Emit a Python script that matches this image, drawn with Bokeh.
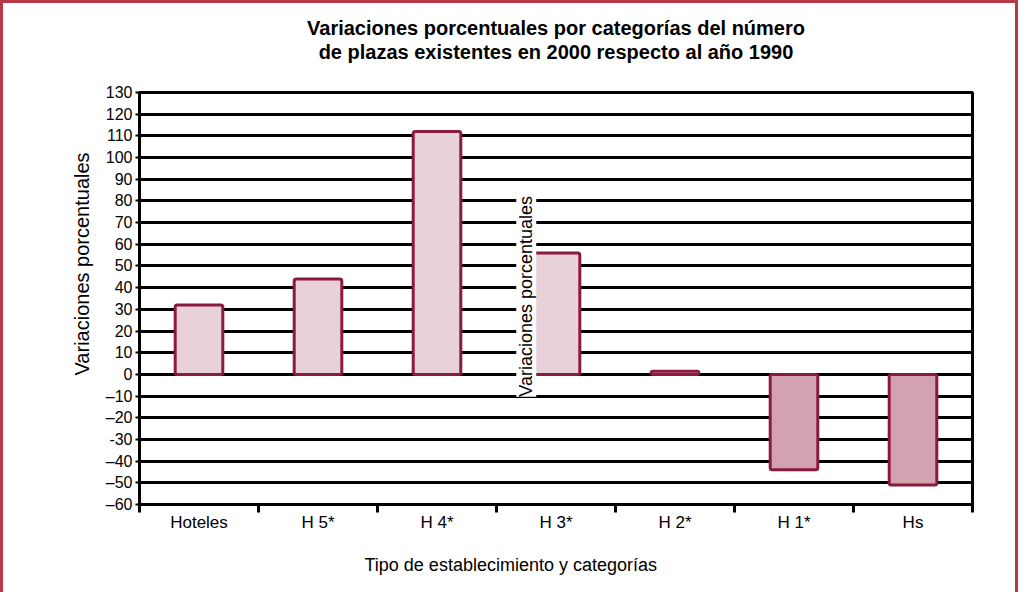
import math
from bokeh.plotting import figure
from bokeh.models import FixedTicker, Label, Title, ColumnDataSource
from bokeh.embed import file_html
from bokeh.resources import INLINE

categories = ["Hoteles", "H 5*", "H 4*", "H 3*", "H 2*", "H 1*", "Hs"]
values = [32, 44, 112, 56, 1.5, -44, -51]
y_ticks = list(range(-60, 131, 10))
y_tick_labels = {t: (("–" + str(abs(t))) if t < 0 else str(t)) for t in y_ticks}
y_tick_labels[-30] = "-30"
title_lines = ["Variaciones porcentuales por categorías del número",
               "de plazas existentes en 2000 respecto al año 1990"]
y_title = "Variaciones porcentuales"
x_title = "Tipo de establecimiento y categorías"

FONT = "Liberation Sans"
POS_FILL = "#e8d1d9"
NEG_FILL = "#d2a2b1"
EDGE = "#8b1a3c"

xs = [i + 0.5 for i in range(len(categories))]
fills = [POS_FILL if v >= 0 else NEG_FILL for v in values]
src = ColumnDataSource(dict(x=xs, top=values, fill=fills))

p = figure(width=1012, height=586, output_backend="svg", toolbar_location=None,
           x_range=(0, len(categories)), y_range=(-60, 130),
           min_border_left=136, min_border_right=43, min_border_top=89, min_border_bottom=85,
           frame_width=833, frame_height=412, title=None)
p.styles = {"border-left": "3px solid #b73846", "border-top": "3px solid #b73846",
            "border-right": "3px solid #b73846"}

p.background_fill_color = "white"
p.border_fill_color = "white"
p.outline_line_color = "black"
p.outline_line_width = 3

# spacer + two centred title lines (closest to the frame is added first)
p.add_layout(Title(text=" ", text_font_size="10px", standoff=17), "above")
p.add_layout(Title(text=title_lines[1], align="center", text_font=FONT,
                   text_font_size="20px", text_font_style="bold", text_color="black",
                   text_line_height=1.0, standoff=0), "above")
p.add_layout(Title(text=title_lines[0], align="center", text_font=FONT,
                   text_font_size="20px", text_font_style="bold", text_color="black",
                   text_line_height=1.0, standoff=0), "above")

# y-axis title (placed higher than centre, like the original)
p.add_layout(Title(text=y_title, align="left", offset=129, text_font=FONT,
                   text_font_size="20px", text_font_style="normal", text_color="black",
                   standoff=20), "left")

# x-axis title (placed left of centre, like the original)
p.add_layout(Title(text=x_title, align="left", offset=225, text_font=FONT,
                   text_font_size="18px", text_font_style="normal", text_color="black",
                   standoff=36), "below")

# grid
p.xgrid.grid_line_color = None
p.ygrid.ticker = FixedTicker(ticks=y_ticks)
p.ygrid.grid_line_color = "black"
p.ygrid.grid_line_width = 3

# y axis
p.yaxis.ticker = FixedTicker(ticks=y_ticks)
p.yaxis.major_label_overrides = y_tick_labels
p.yaxis.major_label_text_font = FONT
p.yaxis.major_label_text_font_size = "16px"
p.yaxis.major_label_text_color = "black"
p.yaxis.axis_line_width = 3
p.yaxis.axis_line_color = "black"
p.yaxis.major_tick_in = 0
p.yaxis.major_tick_out = 4
p.yaxis.major_tick_line_width = 2
p.yaxis.minor_tick_line_color = None
p.yaxis.major_label_standoff = 3

# x axis: labels at category centers, ticks at boundaries
p.xaxis.ticker = FixedTicker(ticks=xs, minor_ticks=list(range(len(categories) + 1)))
p.xaxis.major_label_overrides = {x: c for x, c in zip(xs, categories)}
p.xaxis.major_tick_line_color = None
p.xaxis.minor_tick_in = 0
p.xaxis.minor_tick_out = 8
p.xaxis.minor_tick_line_width = 3
p.xaxis.minor_tick_line_color = "black"
p.xaxis.axis_line_width = 3
p.xaxis.axis_line_color = "black"
p.xaxis.major_label_text_font = FONT
p.xaxis.major_label_text_font_size = "17px"
p.xaxis.major_label_text_color = "black"
p.xaxis.major_label_standoff = 0

# stray rotated label in the plot area
p.add_layout(Label(x=3.25, y=36, text=y_title, angle=math.pi / 2,
                   text_align="center", text_baseline="middle", text_font=FONT,
                   text_font_size="18px", text_color="black",
                   background_fill_color="white", level="glyph"))

p.vbar(x="x", top="top", bottom=0, width=0.4, source=src, fill_color="fill",
       line_color=EDGE, line_width=3, border_radius=2)

open("out.html", "w").write(file_html(p, INLINE))
